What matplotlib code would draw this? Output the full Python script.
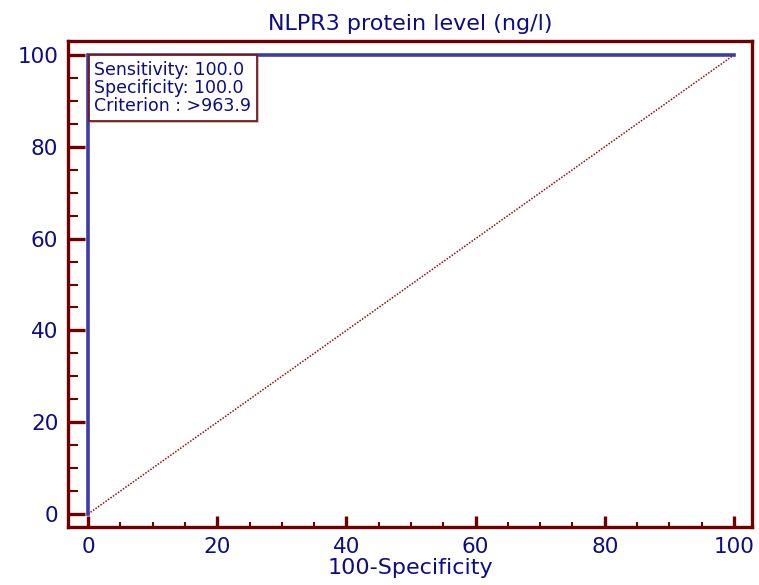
import matplotlib.pyplot as plt
import matplotlib.patheffects as pe
from matplotlib.ticker import MultipleLocator

# ROC curve points (100-Specificity vs Sensitivity)
roc_x = [0, 0, 100]
roc_y = [0, 100, 100]
ref_x = [0, 100]
ref_y = [0, 100]

title = 'NLPR3 protein level (ng/l)'
xlabel = '100-Specificity'
box_lines = ['Sensitivity: 100.0', 'Specificity: 100.0', 'Criterion : >963.9']

frame_col = '#700000'
text_col = '#0c0c84'
line_col = '#3c3ca6'

plt.rcParams['font.family'] = ['DejaVu Sans']

fig = plt.figure(figsize=(7.59, 5.85), dpi=100)
ax = fig.add_axes([0.0896, 0.0991, 0.9012, 0.8308])

ax.plot(ref_x, ref_y, linestyle=(0, (1, 1)), color='#8b1010', linewidth=1.1)
ax.plot(roc_x, roc_y, color=line_col, linewidth=2.6, solid_joinstyle='miter')

ax.set_xlim(-3.1, 102.8)
ax.set_ylim(-2.83, 103.05)

ax.xaxis.set_major_locator(MultipleLocator(20))
ax.xaxis.set_minor_locator(MultipleLocator(5))
ax.yaxis.set_major_locator(MultipleLocator(20))
ax.yaxis.set_minor_locator(MultipleLocator(5))

for s in ax.spines.values():
    s.set_color(frame_col)
    s.set_linewidth(2.4)

ax.tick_params(axis='both', which='both', direction='in', color=frame_col,
               labelcolor=text_col, labelsize=15.5, pad=7)
ax.tick_params(axis='x', which='major', length=8, width=2.4)
ax.tick_params(axis='x', which='minor', length=3.5, width=1.5)
ax.tick_params(axis='y', which='major', length=12, width=2.4)
ax.tick_params(axis='y', which='minor', length=7, width=1.5)

ax.set_title(title, color=text_col, fontsize=16, pad=8)
ax.set_xlabel(xlabel, color=text_col, fontsize=16, labelpad=1)

# info box anchored at the top-left corner of the curve
t = ax.annotate('\n'.join(box_lines), xy=(0, 100), xytext=(4.6, -4.4),
                textcoords='offset points', color=text_col, fontsize=12.5,
                va='top', ha='left', linespacing=1.0,
                bbox=dict(boxstyle='square,pad=0.33', facecolor='white',
                          edgecolor='#7a1818', linewidth=1.3))
t.get_bbox_patch().set_path_effects([
    pe.SimplePatchShadow(offset=(1.2, -1.2), shadow_rgbFace='#999999', alpha=0.6),
    pe.Normal()])

fig.savefig('out.png', dpi=100)
